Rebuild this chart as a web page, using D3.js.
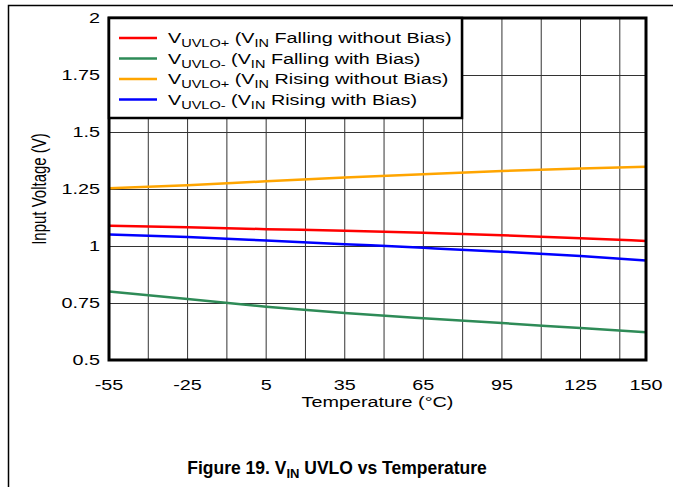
<!DOCTYPE html>
<meta charset="utf-8">
<script src="https://d3js.org/d3.v7.min.js"></script>
<style>
body { margin: 0; background: #fff; }
text { font-family: "Liberation Sans", Arial, sans-serif; fill: #000; }
.grid line { stroke: #333; stroke-width: 1px; }
.series { fill: none; stroke-width: 2.5px; }
</style>
<body>
<script>

// temperature points (°C)
var temps = [-55, -25, 5, 35, 65, 95, 125, 150];

// (V)
var fallingNoBias = [1.089, 1.082, 1.074, 1.067, 1.058, 1.047, 1.034, 1.022];
var fallingBias   = [0.800, 0.768, 0.734, 0.706, 0.683, 0.662, 0.640, 0.622];
var risingNoBias  = [1.253, 1.266, 1.284, 1.300, 1.315, 1.329, 1.340, 1.348];
var risingBias    = [1.051, 1.039, 1.024, 1.008, 0.992, 0.975, 0.956, 0.936];

var xTicks = [-55, -25, 5, 35, 65, 95, 125, 150];
var xGrid = [-40, -25, -10, 5, 20, 35, 50, 65, 80, 95, 110, 125, 140];
var yTicks = [0.5, 0.75, 1, 1.25, 1.5, 1.75, 2];
var yTickLabels = ["0.5", "0.75", "1", "1.25", "1.5", "1.75", "2"];

var seriesList = [
  {sub: "UVLO+", label: " Falling without Bias)", color: "#ff0000", values: fallingNoBias},
  {sub: "UVLO-", label: " Falling with Bias)", color: "#2e8b57", values: fallingBias},
  {sub: "UVLO+", label: " Rising without Bias)", color: "#ffa500", values: risingNoBias},
  {sub: "UVLO-", label: " Rising with Bias)", color: "#0000ff", values: risingBias}
];

var width = 673, height = 487;
var pl = 109, pr = 646, pt = 18, pb = 360;
var sx = 1.32; // the chart text is stretched sideways

var svg = d3.select("body").append("svg")
    .attr("width", width)
    .attr("height", height);

// page frame
svg.append("path")
    .attr("d", "M8.5,487V5.5H673")
    .attr("fill", "none")
    .attr("stroke", "#000")
    .attr("stroke-width", 1.5);

var x = d3.scaleLinear().domain([-55, 150]).range([pl, pr]);
var y = d3.scaleLinear().domain([0.5, 2]).range([pb, pt]);

// grid
var grid = svg.append("g").attr("class", "grid");
grid.selectAll(".vx").data(xGrid).enter().append("line")
    .attr("x1", function(d) { return x(d); })
    .attr("x2", function(d) { return x(d); })
    .attr("y1", pt).attr("y2", pb);
grid.selectAll(".hy").data(yTicks.slice(1, -1)).enter().append("line")
    .attr("x1", pl).attr("x2", pr)
    .attr("y1", function(d) { return Math.round(y(d)) + 0.5; })
    .attr("y2", function(d) { return Math.round(y(d)) + 0.5; });

// series
var line = d3.line()
    .x(function(d, i) { return x(temps[i]); })
    .y(function(d) { return y(d); })
    .curve(d3.curveMonotoneX);

svg.selectAll(".series").data(seriesList).enter().append("path")
    .attr("class", "series")
    .attr("stroke", function(d) { return d.color; })
    .attr("d", function(d) { return line(d.values); });

// plot border
svg.append("rect")
    .attr("x", pl).attr("y", pt)
    .attr("width", pr - pl).attr("height", pb - pt)
    .attr("fill", "none").attr("stroke", "#000").attr("stroke-width", 3);

// axes labels
svg.selectAll(".ylab").data(yTicks).enter().append("text")
    .attr("transform", function(d) { return "translate(100," + y(d) + ") scale(" + sx + ",1)"; })
    .attr("dy", "0.35em")
    .attr("text-anchor", "end")
    .style("font-size", "15px")
    .text(function(d, i) { return yTickLabels[i]; });

svg.selectAll(".xlab").data(xTicks).enter().append("text")
    .attr("transform", function(d) { return "translate(" + x(d) + ",385) scale(" + sx + ",1)"; })
    .attr("dy", "0.35em")
    .attr("text-anchor", "middle")
    .style("font-size", "15px")
    .text(function(d) { return d; });

svg.append("text")
    .attr("transform", "translate(" + ((pl + pr) / 2) + ",402) scale(" + sx + ",1)")
    .attr("dy", "0.35em")
    .attr("text-anchor", "middle")
    .style("font-size", "15px")
    .text("Temperature (\u00B0C)");

svg.append("text")
    .attr("transform", "translate(39," + ((pt + pb) / 2) + ") scale(" + sx + ",1) rotate(-90)")
    .attr("dy", "0.35em")
    .attr("text-anchor", "middle")
    .style("font-size", "15px")
    .text("Input Voltage (V)");

// legend
var legend = svg.append("g");
legend.append("rect")
    .attr("x", pl).attr("y", pt)
    .attr("width", 353).attr("height", 100)
    .attr("fill", "#fff").attr("stroke", "#000").attr("stroke-width", 2.5);

var row = legend.selectAll(".row").data(seriesList).enter().append("g")
    .attr("transform", function(d, i) { return "translate(0," + (38 + i * 20.5) + ")"; });
row.append("line")
    .attr("x1", 119).attr("x2", 157)
    .attr("stroke", function(d) { return d.color; })
    .attr("stroke-width", 2.5);
var lt = row.append("text")
    .attr("transform", "translate(168,0) scale(" + sx + ",1)")
    .attr("dy", "0.35em")
    .style("font-size", "15px");
lt.append("tspan").text("V");
lt.append("tspan").attr("dy", 4).style("font-size", "11px").text(function(d) { return d.sub; });
lt.append("tspan").attr("dy", -4).text(" (V");
lt.append("tspan").attr("dy", 4).style("font-size", "11px").text("IN");
lt.append("tspan").attr("dy", -4).text(function(d) { return d.label; });

// caption
var cap = svg.append("text")
    .attr("x", 337)
    .attr("y", 468)
    .attr("dy", "0.35em")
    .attr("text-anchor", "middle")
    .style("font-size", "17.5px")
    .style("font-weight", "bold");
cap.append("tspan").text("Figure 19. V");
cap.append("tspan").attr("dy", 4).style("font-size", "13px").text("IN");
cap.append("tspan").attr("dy", -4).text(" UVLO vs Temperature");

</script>
</body>
